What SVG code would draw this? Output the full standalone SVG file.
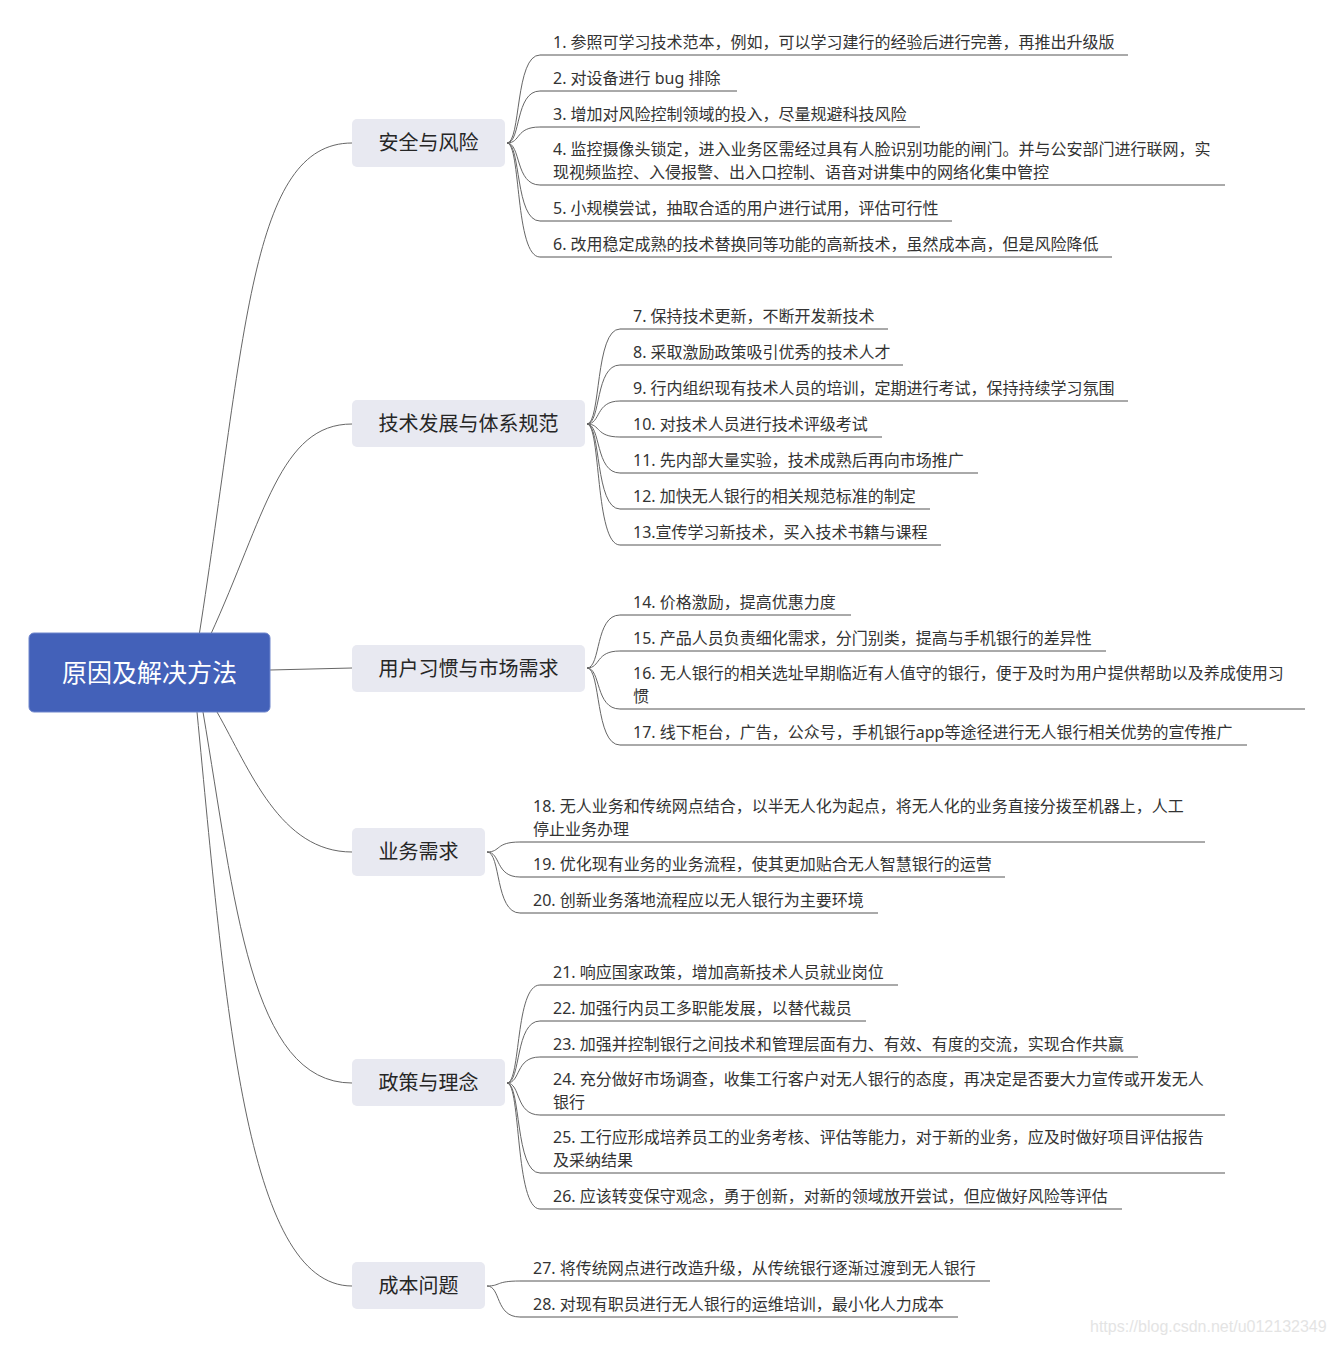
<svg xmlns="http://www.w3.org/2000/svg" width="1333" height="1345" viewBox="0 0 1333 1345">
<style>
.bg{fill:#ffffff}
.root rect{fill:#4361b9;stroke:#6f86cc;stroke-width:1}
.root text{font-family:"Noto Sans CJK SC","Noto Sans",sans-serif;font-size:25px;fill:#ffffff;text-anchor:middle}
.br rect{fill:#e8e9f1}
.br text{font-family:"Noto Sans CJK SC","Noto Sans",sans-serif;font-size:20px;fill:#262626;text-anchor:middle}
.lf text{font-family:"Noto Sans","Noto Sans CJK SC",sans-serif;font-size:16px;fill:#333333}
.lf path{fill:none;stroke:#555555;stroke-width:1}
#connectors path{fill:none;stroke:#666666;stroke-width:1}
.wm{font-family:"Liberation Sans",Arial,sans-serif;font-size:16px;fill:#e4e4e4}
</style>
<rect class="bg" x="0" y="0" width="1333" height="1345"/>

<g id="connectors">
  <!-- root to branches -->
  <path d="M199,636 C246,336 250,143 352,143"/>
  <path d="M210,636 C265,516 280,424 352,424"/>
  <path d="M270,670 L352,668"/>
  <path d="M217,712 C250,770 280,852 352,852"/>
  <path d="M203,712 C235,900 250,1083 352,1083"/>
  <path d="M197,712 C225,1000 245,1286 352,1286"/>
  <!-- group 1 -->
  <path d="M507,143 C521,143 515,55 540,55"/>
  <path d="M507,143 C521,143 515,91 540,91"/>
  <path d="M507,143 C521,143 515,127 540,127"/>
  <path d="M507,143 C521,143 515,185 540,185"/>
  <path d="M507,143 C521,143 515,221 540,221"/>
  <path d="M507,143 C521,143 515,257 540,257"/>
  <!-- group 2 -->
  <path d="M587,424 C601,424 595,329 620,329"/>
  <path d="M587,424 C601,424 595,365 620,365"/>
  <path d="M587,424 C601,424 595,401 620,401"/>
  <path d="M587,424 C601,424 595,437 620,437"/>
  <path d="M587,424 C601,424 595,473 620,473"/>
  <path d="M587,424 C601,424 595,509 620,509"/>
  <path d="M587,424 C601,424 595,545 620,545"/>
  <!-- group 3 -->
  <path d="M587,668 C601,668 595,615 620,615"/>
  <path d="M587,668 C601,668 595,651 620,651"/>
  <path d="M587,668 C601,668 595,709 620,709"/>
  <path d="M587,668 C601,668 595,745 620,745"/>
  <!-- group 4 -->
  <path d="M487,852 C501,852 495,842 520,842"/>
  <path d="M487,852 C501,852 495,877 520,877"/>
  <path d="M487,852 C501,852 495,913 520,913"/>
  <!-- group 5 -->
  <path d="M507,1083 C521,1083 515,985 540,985"/>
  <path d="M507,1083 C521,1083 515,1021 540,1021"/>
  <path d="M507,1083 C521,1083 515,1057 540,1057"/>
  <path d="M507,1083 C521,1083 515,1115 540,1115"/>
  <path d="M507,1083 C521,1083 515,1173 540,1173"/>
  <path d="M507,1083 C521,1083 515,1209 540,1209"/>
  <!-- group 6 -->
  <path d="M487,1286 C501,1286 495,1281 520,1281"/>
  <path d="M487,1286 C501,1286 495,1317 520,1317"/>
</g>

<g id="root" class="root">
  <rect x="29" y="633" width="241" height="79" rx="5"/>
  <text x="149.5" y="682">原因及解决方法</text>
</g>

<g id="b1" class="br"><rect x="352" y="119" width="153" height="48" rx="5"/><text x="428.5" y="150">安全与风险</text></g>
<g id="b2" class="br"><rect x="352" y="400" width="233" height="47" rx="5"/><text x="468.5" y="431">技术发展与体系规范</text></g>
<g id="b3" class="br"><rect x="352" y="645" width="233" height="47" rx="5"/><text x="468.5" y="676">用户习惯与市场需求</text></g>
<g id="b4" class="br"><rect x="352" y="828" width="133" height="48" rx="5"/><text x="418.5" y="859">业务需求</text></g>
<g id="b5" class="br"><rect x="352" y="1059" width="153" height="47" rx="5"/><text x="428.5" y="1090">政策与理念</text></g>
<g id="b6" class="br"><rect x="352" y="1262" width="133" height="47" rx="5"/><text x="418.5" y="1293">成本问题</text></g>

<!-- group 1 leaves -->
<g id="n1" class="lf"><text x="553" y="48">1. 参照可学习技术范本，例如，可以学习建行的经验后进行完善，再推出升级版</text><path d="M540,55 H1128"/></g>
<g id="n2" class="lf"><text x="553" y="84">2. 对设备进行 bug 排除</text><path d="M540,91 H737"/></g>
<g id="n3" class="lf"><text x="553" y="120">3. 增加对风险控制领域的投入，尽量规避科技风险</text><path d="M540,127 H920"/></g>
<g id="n4" class="lf"><text x="553" y="155">4. 监控摄像头锁定，进入业务区需经过具有人脸识别功能的闸门。并与公安部门进行联网，实</text><text x="553" y="178">现视频监控、入侵报警、出入口控制、语音对讲集中的网络化集中管控</text><path d="M540,185 H1225"/></g>
<g id="n5" class="lf"><text x="553" y="214">5. 小规模尝试，抽取合适的用户进行试用，评估可行性</text><path d="M540,221 H952"/></g>
<g id="n6" class="lf"><text x="553" y="250">6. 改用稳定成熟的技术替换同等功能的高新技术，虽然成本高，但是风险降低</text><path d="M540,257 H1112"/></g>

<!-- group 2 leaves -->
<g id="n7" class="lf"><text x="633" y="322">7. 保持技术更新，不断开发新技术</text><path d="M620,329 H888"/></g>
<g id="n8" class="lf"><text x="633" y="358">8. 采取激励政策吸引优秀的技术人才</text><path d="M620,365 H903"/></g>
<g id="n9" class="lf"><text x="633" y="394">9. 行内组织现有技术人员的培训，定期进行考试，保持持续学习氛围</text><path d="M620,401 H1128"/></g>
<g id="n10" class="lf"><text x="633" y="430">10. 对技术人员进行技术评级考试</text><path d="M620,437 H882"/></g>
<g id="n11" class="lf"><text x="633" y="466">11. 先内部大量实验，技术成熟后再向市场推广</text><path d="M620,473 H978"/></g>
<g id="n12" class="lf"><text x="633" y="502">12. 加快无人银行的相关规范标准的制定</text><path d="M620,509 H930"/></g>
<g id="n13" class="lf"><text x="633" y="538">13.宣传学习新技术，买入技术书籍与课程</text><path d="M620,545 H941"/></g>

<!-- group 3 leaves -->
<g id="n14" class="lf"><text x="633" y="608">14. 价格激励，提高优惠力度</text><path d="M620,615 H851"/></g>
<g id="n15" class="lf"><text x="633" y="644">15. 产品人员负责细化需求，分门别类，提高与手机银行的差异性</text><path d="M620,651 H1106"/></g>
<g id="n16" class="lf"><text x="633" y="679">16. 无人银行的相关选址早期临近有人值守的银行，便于及时为用户提供帮助以及养成使用习</text><text x="633" y="702">惯</text><path d="M620,709 H1305"/></g>
<g id="n17" class="lf"><text x="633" y="738">17. 线下柜台，广告，公众号，手机银行app等途径进行无人银行相关优势的宣传推广</text><path d="M620,745 H1247"/></g>

<!-- group 4 leaves -->
<g id="n18" class="lf"><text x="533" y="812">18. 无人业务和传统网点结合，以半无人化为起点，将无人化的业务直接分拨至机器上，人工</text><text x="533" y="835">停止业务办理</text><path d="M520,842 H1205"/></g>
<g id="n19" class="lf"><text x="533" y="870">19. 优化现有业务的业务流程，使其更加贴合无人智慧银行的运营</text><path d="M520,877 H1005"/></g>
<g id="n20" class="lf"><text x="533" y="906">20. 创新业务落地流程应以无人银行为主要环境</text><path d="M520,913 H878"/></g>

<!-- group 5 leaves -->
<g id="n21" class="lf"><text x="553" y="978">21. 响应国家政策，增加高新技术人员就业岗位</text><path d="M540,985 H898"/></g>
<g id="n22" class="lf"><text x="553" y="1014">22. 加强行内员工多职能发展，以替代裁员</text><path d="M540,1021 H866"/></g>
<g id="n23" class="lf"><text x="553" y="1050">23. 加强并控制银行之间技术和管理层面有力、有效、有度的交流，实现合作共赢</text><path d="M540,1057 H1138"/></g>
<g id="n24" class="lf"><text x="553" y="1085">24. 充分做好市场调查，收集工行客户对无人银行的态度，再决定是否要大力宣传或开发无人</text><text x="553" y="1108">银行</text><path d="M540,1115 H1225"/></g>
<g id="n25" class="lf"><text x="553" y="1143">25. 工行应形成培养员工的业务考核、评估等能力，对于新的业务，应及时做好项目评估报告</text><text x="553" y="1166">及采纳结果</text><path d="M540,1173 H1225"/></g>
<g id="n26" class="lf"><text x="553" y="1202">26. 应该转变保守观念，勇于创新，对新的领域放开尝试，但应做好风险等评估</text><path d="M540,1209 H1122"/></g>

<!-- group 6 leaves -->
<g id="n27" class="lf"><text x="533" y="1274">27. 将传统网点进行改造升级，从传统银行逐渐过渡到无人银行</text><path d="M520,1281 H990"/></g>
<g id="n28" class="lf"><text x="533" y="1310">28. 对现有职员进行无人银行的运维培训，最小化人力成本</text><path d="M520,1317 H958"/></g>

<text class="wm" x="1090" y="1332">https://blog.csdn.net/u012132349</text>
</svg>
